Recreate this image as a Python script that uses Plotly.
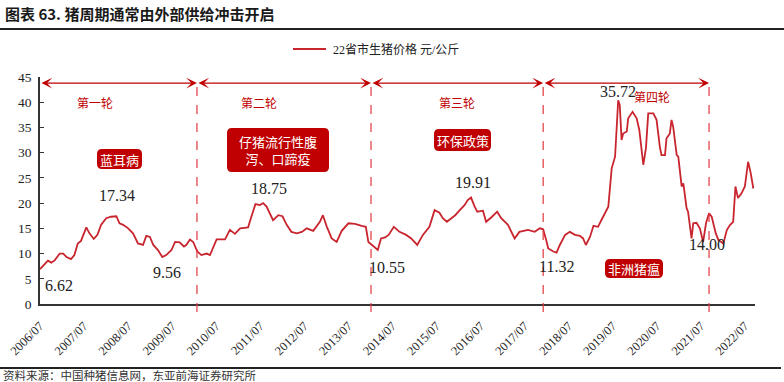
import plotly.graph_objects as go

# ---------------- data ----------------
dates = [
    "2006-07-01", "2006-09-05", "2006-10-03", "2006-11-01", "2006-12-12", "2007-01-10", "2007-02-06",
    "2007-03-15", "2007-04-12", "2007-05-10", "2007-06-06", "2007-07-20", "2007-08-15", "2007-09-20",
    "2007-10-20", "2007-11-20", "2008-01-01", "2008-02-10", "2008-03-25", "2008-04-20", "2008-05-20",
    "2008-07-01", "2008-08-10", "2008-09-20", "2008-11-01", "2008-11-28", "2008-12-28", "2009-01-25",
    "2009-03-05", "2009-04-10", "2009-05-12", "2009-06-25", "2009-07-25", "2009-09-01", "2009-10-06",
    "2009-10-25", "2009-11-25", "2009-12-22", "2010-01-25", "2010-02-28", "2010-04-12", "2010-05-10",
    "2010-07-04", "2010-09-12", "2010-10-22", "2010-12-03", "2011-01-15", "2011-03-22", "2011-04-18",
    "2011-05-22", "2011-06-28", "2011-07-25", "2011-08-22", "2011-10-15", "2011-11-28", "2012-01-01",
    "2012-02-05", "2012-03-15", "2012-04-28", "2012-06-10", "2012-07-20", "2012-09-12", "2012-11-06",
    "2012-12-01", "2013-01-03", "2013-02-12", "2013-03-25", "2013-05-06", "2013-07-01", "2013-08-25",
    "2013-10-18", "2013-11-22", "2013-12-13", "2014-01-22", "2014-03-01", "2014-03-28", "2014-05-01",
    "2014-05-30", "2014-07-12", "2014-08-28", "2014-10-22", "2014-12-03", "2015-01-22", "2015-03-10",
    "2015-05-03", "2015-06-15", "2015-07-25", "2015-08-22", "2015-09-25", "2015-11-01", "2015-12-03",
    "2016-01-10", "2016-02-18", "2016-03-16", "2016-04-12", "2016-05-12", "2016-06-03", "2016-07-20",
    "2016-08-15", "2016-10-03", "2016-11-15", "2016-12-18", "2017-02-12", "2017-04-08", "2017-05-18",
    "2017-07-28", "2017-09-22", "2017-11-03", "2017-12-01", "2017-12-28", "2018-01-12", "2018-02-24",
    "2018-03-22", "2018-04-18", "2018-06-01", "2018-07-10", "2018-08-22", "2018-10-01", "2018-10-28",
    "2018-11-20", "2018-12-24", "2019-01-22", "2019-03-01", "2019-03-28", "2019-04-25", "2019-05-25",
    "2019-06-22", "2019-07-20", "2019-08-15", "2019-08-28", "2019-09-12", "2019-09-25", "2019-10-25",
    "2019-11-06", "2019-12-12", "2020-01-15", "2020-02-06", "2020-03-10", "2020-04-01", "2020-04-20",
    "2020-06-01", "2020-06-28", "2020-07-25", "2020-08-08", "2020-09-06", "2020-09-18", "2020-10-16",
    "2020-10-30", "2020-11-13", "2020-12-12", "2020-12-25", "2021-01-22", "2021-02-05", "2021-03-04",
    "2021-03-16", "2021-04-14", "2021-04-28", "2021-05-25", "2021-06-22", "2021-07-19", "2021-08-12",
    "2021-09-06", "2021-09-28", "2021-10-12", "2021-11-01", "2021-11-22", "2022-01-03", "2022-02-01",
    "2022-02-28", "2022-03-25", "2022-04-13", "2022-05-04", "2022-06-01", "2022-06-30", "2022-07-07",
    "2022-07-27", "2022-08-18", "2022-09-08",
]
prices = [
    6.9, 8.6, 8.2, 8.7, 10.0, 10.0, 9.3,
    8.9, 9.7, 12.0, 12.5, 15.2, 14.0, 12.9,
    13.7, 15.7, 17.0, 17.3, 17.4, 16.0, 15.7,
    15.0, 14.0, 12.0, 11.7, 13.5, 13.3, 11.7,
    10.7, 9.3, 9.7, 10.7, 12.3, 12.2, 11.4,
    11.7, 12.8, 12.3, 10.4, 9.7, 10.0, 9.7,
    12.8, 12.8, 14.7, 13.9, 15.0, 15.2, 17.3,
    19.8, 19.6, 20.0, 19.3, 16.6, 17.6, 17.4,
    15.7, 14.3, 14.0, 14.3, 15.0, 14.5, 16.3,
    17.6, 15.3, 13.0, 12.3, 14.5, 16.0, 15.9,
    15.5, 15.3, 12.3, 11.5, 10.7, 13.0, 13.2,
    13.7, 15.3, 14.3, 13.7, 13.0, 11.7, 13.7,
    15.3, 18.6, 18.1, 17.0, 16.3, 17.0, 17.6,
    18.6, 19.6, 20.6, 21.1, 19.3, 18.3, 18.5,
    16.3, 17.3, 18.3, 17.0, 15.7, 13.0, 14.3,
    14.7, 14.3, 15.0, 14.8, 12.5, 11.0, 10.4,
    10.2, 11.7, 13.7, 14.3, 13.7, 13.5, 13.0,
    11.7, 13.3, 15.5, 15.3, 16.6, 18.0, 19.3,
    26.9, 29.2, 40.4, 39.4, 32.5, 33.8, 34.2,
    36.8, 38.1, 36.8, 34.5, 27.6, 30.9, 37.8,
    37.8, 36.5, 31.2, 29.5, 29.5, 32.8, 33.8,
    36.5, 35.1, 29.5, 29.2, 23.3, 23.9, 19.0,
    18.3, 13.0, 16.0, 16.1, 15.0, 12.3, 16.0,
    18.0, 17.3, 16.0, 14.0, 12.7, 12.0, 14.7,
    15.7, 16.3, 23.3, 21.0, 21.9, 23.3, 24.6,
    28.2, 25.9, 22.9,
]
series_name = "22省市生猪价格 元/公斤"

tick_years = list(range(2006, 2023))
tick_labels = [f"{y}/07" for y in tick_years]

cycle_bounds = ["2006-07-01", "2010-01-22", "2014-01-04", "2017-12-01", "2021-09-06"]
cycle_names = ["第一轮", "第二轮", "第三轮", "第四轮"]
events = ["蓝耳病", "仔猪流行性腹<br>泻、口蹄疫", "环保政策", "非洲猪瘟"]
point_labels = ["6.62", "17.34", "9.56", "18.75", "10.55", "19.91", "11.32", "35.72", "14.00"]

title = "图表 63. 猪周期通常由外部供给冲击开启"
source = "资料来源：中国种猪信息网，东亚前海证券研究所"

# ---------------- layout: paper = whole figure, plot area set via axis domains ----------------
W, H = 784, 382
PLOT_L, PLOT_R, PLOT_T, PLOT_B = 40, 755, 77, 304


def px(X):
    return X / W


def py(Y):
    return 1 - Y / H


RED = "#c00000"
LINE_RED = "#c9252f"
SERIF = "Liberation Serif, Times New Roman, Noto Sans CJK SC, serif"
CJK = "Noto Sans CJK SC, sans-serif"


def text_ann(txt, X, Y, font, xanchor="center"):
    return dict(x=px(X), y=py(Y), xref="paper", yref="paper", text=txt, showarrow=False,
                xanchor=xanchor, yanchor="middle", font=font)


fig = go.Figure()
fig.add_trace(go.Scatter(
    x=dates, y=prices, mode="lines", name=series_name, showlegend=False,
    line=dict(color=LINE_RED, width=1.8),
))

shapes = []
annotations = []

# title / footer rules
shapes.append(dict(type="line", xref="paper", yref="paper", x0=0, x1=1,
                   y0=py(29), y1=py(29), line=dict(color="#222", width=2)))
shapes.append(dict(type="line", xref="paper", yref="paper", x0=0, x1=px(781),
                   y0=py(368), y1=py(368), line=dict(color="#222", width=2)))

# manual legend
shapes.append(dict(type="line", xref="paper", yref="paper", x0=px(293), x1=px(326),
                   y0=py(49), y1=py(49), line=dict(color=LINE_RED, width=1.8)))
annotations.append(text_ann(series_name, 331, 49, dict(family=SERIF, size=12, color="#222"), "left"))

# dashed cycle separators
for d in cycle_bounds[1:]:
    shapes.append(dict(type="line", xref="x", yref="paper", x0=d, x1=d,
                       y0=py(312), y1=py(83), line=dict(color="#e0393e", width=1.2, dash="dash")))

# double-headed arrows for each cycle
for i in range(len(cycle_names)):
    annotations.append(dict(
        x=cycle_bounds[i + 1], y=43.8, ax=cycle_bounds[i], ay=43.8,
        xref="x", yref="y", axref="x", ayref="y", text="", showarrow=True,
        arrowhead=3, startarrowhead=3, arrowside="end+start", arrowsize=1.5,
        startarrowsize=1.5, arrowwidth=1.2, arrowcolor=RED, standoff=0, startstandoff=0,
    ))

# cycle names
cycle_pos = [(95, 102), (259, 102), (457, 102), (652, 96)]
for name, (X, Y) in zip(cycle_names, cycle_pos):
    annotations.append(text_ann(name, X, Y, dict(family=CJK, size=12, color=RED)))


# event boxes (rounded)
def rrect(x0, y0, x1, y1, r=5):
    X0, X1 = px(x0), px(x1)
    Y0, Y1 = py(y1), py(y0)  # bottom, top in paper
    rx, ry = r / W, r / H
    return (f"M {X0+rx},{Y0} L {X1-rx},{Y0} Q {X1},{Y0} {X1},{Y0+ry} "
            f"L {X1},{Y1-ry} Q {X1},{Y1} {X1-rx},{Y1} L {X0+rx},{Y1} "
            f"Q {X0},{Y1} {X0},{Y1-ry} L {X0},{Y0+ry} Q {X0},{Y0} {X0+rx},{Y0} Z")


boxes = [(97, 149, 142, 169), (227, 128, 329, 172), (434, 129, 491, 151), (605, 259, 663, 278)]
for txt, (x0, y0, x1, y1) in zip(events, boxes):
    shapes.append(dict(type="path", xref="paper", yref="paper", path=rrect(x0, y0, x1, y1, 5),
                       fillcolor=RED, line=dict(width=0)))
    annotations.append(text_ann(txt, (x0 + x1) / 2, (y0 + y1) / 2,
                                dict(family=CJK, size=13, color="white")))

# value labels
label_pos = [(59, 285), (117, 195), (167, 272), (269, 188), (387, 267), (473, 182),
             (556, 266), (618, 91), (707, 244)]
for txt, (X, Y) in zip(point_labels, label_pos):
    annotations.append(text_ann(txt, X, Y, dict(family=SERIF, size=16, color="#222")))

# title and source
annotations.append(text_ann(f"<b>{title}</b>", 3, 14, dict(family=CJK, size=15, color="#1a1a1a"), "left"))
annotations.append(text_ann(source, 1, 374.5, dict(family=CJK, size=11.5, color="#333"), "left"))

fig.update_layout(
    width=W, height=H, autosize=False,
    margin=dict(l=0, r=0, t=0, b=0, pad=0, autoexpand=False),
    paper_bgcolor="white", plot_bgcolor="white",
    showlegend=False,
    shapes=shapes, annotations=annotations,
)
fig.update_xaxes(
    type="date", range=["2006-07-01", "2022-09-22"], automargin=False,
    domain=[px(PLOT_L), px(PLOT_R)],
    tickvals=[f"{y}-07-01" for y in tick_years], ticktext=tick_labels,
    tickangle=-45, tickfont=dict(family=SERIF, size=12.5, color="#222"),
    showgrid=False, zeroline=False, showline=True, linecolor="#333", linewidth=1.5,
    ticks="", ticklabelstandoff=8,
)
fig.update_yaxes(
    range=[0, 45], tickvals=list(range(0, 46, 5)), automargin=False,
    domain=[py(PLOT_B), py(PLOT_T)],
    tickfont=dict(family=SERIF, size=13.5, color="#222"),
    showgrid=False, zeroline=False, showline=True, linecolor="#333", linewidth=1.5,
    ticks="inside", ticklen=4, tickcolor="#333", ticklabelstandoff=4,
)

fig.write_html("out.html", config={"displayModeBar": False},
               post_script="document.body.style.margin='0';")
